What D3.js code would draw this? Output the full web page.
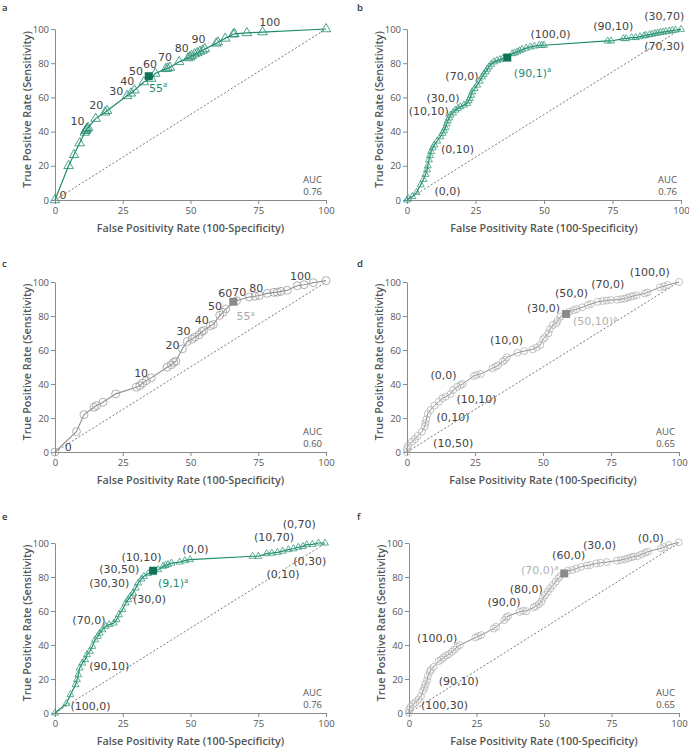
<!DOCTYPE html>
<html><head><meta charset="utf-8">
<script src="https://cdn.jsdelivr.net/npm/d3@7"></script>
<style>body{margin:0;background:#fff}</style>
</head><body><svg id="chart" width="689" height="748"></svg>
<script>
// ---------------- DATA ----------------
const xTicks = [0, 25, 50, 75, 100];
const yTicks = [0, 20, 40, 60, 80, 100];
const panelLetters = ["a", "b", "c", "d", "e", "f"];
const aucValues = ["0.76", "0.76", "0.60", "0.65", "0.76", "0.65"];

const pointsA = [[0,0],[5,20],[7,26.4],[9.1,33.3],[11,39.5],[11.3,40.5],[11.6,41.2],[11.8,41.8],[12.2,42.3],[15,47.6],[18.5,51.3],[19.2,52.2],[26.6,60.9],[28,62.4],[29.3,64.2],[32.8,69],[35.5,71],[37,74],[40.9,76.7],[41.6,77],[42.4,77.5],[45.8,80.8],[49.1,83],[49.8,83.6],[50.4,84.3],[51.5,85.3],[52.5,86],[53.5,86.8],[54.5,87.5],[55.3,88.3],[59.5,91.6],[60.1,92.3],[62.8,94.5],[65.8,96.9],[66.2,97.2],[70.8,97.7],[76.6,98.2],[100,100]];
const cutoffA = [34.6, 72.4];
const labelsA = [["0",1.7,0.8],["10",5.7,43.6],["20",12.6,53.4],["30",20,61.4],["40",24.1,67.3],["50",27.3,73.2],["60",32.5,77.1],["70",38,81],["80",44.2,86.3],["90",50.4,91.8],["100",75.4,102]];
const cutLabelA = ["55", 34.7, 63.4];

const pointsB = [[0,0],[0.5,0.8],[2,2],[3.5,4.5],[5,8.9],[6,12],[6.8,15],[7.3,17.7],[7.6,20],[8,23.5],[8.4,26],[8.8,28.3],[9.4,30.5],[10,32.2],[11,34.5],[12.2,37],[13,39],[13.5,40.5],[14,42.3],[14.5,44.5],[14.9,46.4],[15.4,48],[15.9,49.7],[16.8,51],[17.7,52.6],[18.6,53.6],[19.5,54.6],[20.8,55.5],[22,56.5],[22.5,58],[22.9,59.4],[23.4,61.3],[23.8,63.3],[24.7,65.2],[25.6,67.2],[26.5,69.5],[27.4,72],[28,73.5],[28.7,75],[29.3,76.5],[29.9,77.9],[30.8,79.4],[31.7,80.8],[32.8,81.5],[33.9,82.1],[35,82.8],[38.4,85.6],[39.3,86],[40.2,86.6],[41.1,87.3],[42,88],[43.5,88.8],[45,89.5],[46.5,90],[48.2,90.5],[49.2,90.5],[50,90.5],[73.2,93],[74.5,93],[79,94.4],[80,94.4],[82,95],[83.5,95],[85,95.5],[86.5,96],[87.2,96.3],[88.5,96.7],[89.5,97],[90.5,97.4],[91.5,97.7],[92.5,98],[93.5,98.2],[94.5,98.5],[95.7,98.8],[96.8,99.1],[98,99.4],[100,99.8]];
const cutoffB = [36.6, 83.3];
const labelsB = [["(0,0)",10,3.1],["(0,10)",12.4,27.4],["(10,10)",0.6,50],["(30,0)",7.1,57.5],["(70,0)",14,70],["(100,0)",45.1,95],["(90,10)",68,99.2],["(30,70)",86.6,105],["(70,30)",86.6,87.6]];
const cutLabelB = ["(90,1)", 39, 72];

const pointsC = [[0,0],[7.9,12],[10.7,22],[14.4,26.3],[15.3,27.3],[17.7,29.3],[22.4,34.2],[30,38.1],[31.3,39],[32.3,40.5],[33.7,42],[35.5,43.6],[41.4,49.9],[42.9,51.3],[43.8,52.7],[44.6,53.4],[47,60.7],[48.8,65],[50.6,66.4],[51.6,67.6],[53.2,69],[54.2,70.9],[54.9,71.5],[57.4,74.3],[58.4,75],[60.8,80.4],[62,82.1],[63,84.1],[67,89],[71.7,91.2],[73.8,91.6],[75.4,92.1],[78.3,93.3],[80.8,93.9],[82,94],[83.4,94.5],[85.7,95.1],[89.4,97.8],[91.9,98.4],[95.3,99.6],[100,100.8]];
const cutoffC = [65.8, 88.4];
const labelsC = [["0",3.6,0.6],["10",29.2,44.4],["20",40.8,60.5],["30",44.8,68.6],["40",51.6,75.4],["50",56.5,83.3],["60",60.2,91],["70",65.4,92],["80",71.7,93.9],["100",86.7,101]];
const cutLabelC = ["55", 67, 77.4];

const pointsD = [[0,0],[0,2],[0.4,3.7],[1.8,6],[2.9,7.6],[3.9,9.4],[5.5,12],[6.5,14.9],[6.8,17],[7.1,19.2],[7.6,22.4],[8.6,24.7],[10.1,27.3],[11.7,29.6],[13,31.6],[14.2,32.5],[16,34.1],[17,36.5],[18.5,38.4],[19.7,39.4],[20.5,40],[24.6,44.7],[25.6,45.3],[27.1,45.9],[31.4,49.2],[32.6,50.2],[33.5,51],[35.1,53.1],[36,54.1],[36.7,55.7],[40.6,58.4],[43.1,59.4],[46.2,60.4],[47.7,61.6],[49,62.9],[50,66.3],[50.7,67.5],[52,69.8],[52.5,72.2],[53.6,74.7],[54.9,75.7],[55.4,77.3],[56.4,79.6],[59.7,82.5],[61.3,83.5],[62.4,84],[64.4,85.1],[66.5,86.5],[67.6,87],[70.2,88.4],[72,88.8],[73.4,89.1],[74.9,89.4],[77.3,89.6],[78.7,89.9],[80,90.2],[81.1,90.8],[82.3,91.4],[83.3,91.8],[84.4,92.2],[87.4,93.3],[88.4,93.9],[93,96.9],[94.4,97.4],[95.8,98.2],[100,100]];
const cutoffD = [58.5, 81.2];
const labelsD = [["(10,50)",9.6,3.1],["(0,10)",10.8,18.4],["(10,10)",18.2,29],["(0,0)",8.6,42.7],["(10,0)",30.5,63.3],["(30,0)",44.1,82.5],["(50,0)",54.4,91.4],["(70,0)",67.7,96.3],["(100,0)",81.9,103.5]];
const cutLabelD = ["(50,10)", 61, 74.7];

const pointsE = [[0,0],[4.2,5.5],[5.7,10.8],[7.6,16.7],[8.1,19.6],[8.6,22.5],[9.1,26.5],[10.1,29.4],[11.1,31.4],[11.8,34.3],[12.8,36.3],[13.8,39.2],[14.8,43.1],[15.8,45.1],[16.5,47],[17.5,49],[18.7,51],[20,52],[21.7,52.9],[22.7,54.9],[23.6,57.8],[24.9,60.8],[26.1,64.7],[27,66.7],[27.8,68.6],[28.8,70.6],[29.8,73.5],[30.7,76.5],[31.9,78.8],[32.8,80.4],[34.4,82],[38.1,84.3],[39.9,86.3],[40.8,86.8],[41.7,87.3],[43,88.2],[46,88.8],[47.9,89.6],[49.8,90.2],[72.9,92.2],[75,92.2],[78.1,93.7],[80,94],[82.1,94.5],[84,95.2],[86.1,96.1],[88,96.6],[89.8,97.5],[91.5,98],[92.9,99],[95,99.2],[97.2,100],[99.6,100]];
const cutoffE = [36.2, 83.7];
const labelsE = [["(100,0)",5.7,1.6],["(90,10)",12.6,25.5],["(70,0)",6.4,52.5],["(30,30)",12.6,74.1],["(30,50)",16.3,82.4],["(10,10)",24.5,89.6],["(30,0)",28.8,64.7],["(0,0)",47,94.1],["(10,70)",73.4,101],["(0,70)",84,108.8],["(0,30)",87.9,87.3],["(0,10)",78,79.4]];
const cutLabelE = ["(9,1)", 38, 74.1];

const pointsF = [[0,0],[0,2],[0.5,3.5],[1.5,5.1],[2.4,6.2],[3.5,7.9],[4.4,9.8],[5.2,13],[5.7,14.9],[6.1,17],[6.7,19.3],[7,21.6],[7.7,24.2],[8.1,25.5],[9.1,27.1],[11,30.5],[11.9,31.4],[12.8,32.6],[13.8,33.8],[14.8,34.6],[15.9,36],[16.9,37.3],[17.8,38.9],[18.8,39.9],[24.6,44.4],[25.6,45.2],[26.7,45.8],[31.4,49.7],[32.3,50.7],[35.3,54.6],[36,56.2],[36.7,57],[41,59.5],[42.2,60.1],[43.4,59.9],[46.2,62.1],[47.1,62.8],[48.1,64],[49,65.4],[49.6,67.4],[50.4,69.4],[51.4,71.3],[52.3,73.3],[53.3,75.2],[54.3,77.2],[55.3,79.2],[56,80.5],[58.8,83.7],[60.5,84.1],[62,85],[63.7,86],[65.9,86.8],[67.1,87],[69.4,88],[70.9,88.4],[73.3,88.8],[77,89.6],[78.5,90],[79.9,90.4],[81.1,91],[82.2,91.6],[83.2,92],[84.7,92.3],[86.1,93.3],[87.5,94.3],[88.5,94.9],[93.3,96.9],[94.5,97.6],[96.2,98.8],[99.9,100.4]];
const cutoffF = [57.5, 82.1];
const labelsF = [["(100,30)",4.4,2.6],["(90,10)",11,16.7],["(100,0)",3,41.8],["(90,0)",29.1,62.9],["(80,0)",37.3,70.7],["(60,0)",53,90.4],["(30,0)",64.4,96.3],["(0,0)",84.7,100.8]];
const cutLabelF = ["(70,0)", 41.5, 81.7];

// ---------------- LAYOUT / STYLE ----------------
const GREEN = "#1e8a6c", GREEN_DARK = "#0f7357";
const panels = [
  {pts: pointsA, cut: cutoffA, labels: labelsA, cutLabel: cutLabelA, x0:55, x1:326, yT:29, yB:200, lx:2, ly:11, marker:"tri", size:9.5, stroke:GREEN, line:GREEN, lineW:1.2, sq:GREEN_DARK, cutColor:GREEN},
  {pts: pointsB, cut: cutoffB, labels: labelsB, cutLabel: cutLabelB, x0:407, x1:681, yT:29, yB:200, lx:357, ly:11, marker:"tri", size:7, stroke:"#3a9c80", line:GREEN, lineW:1.2, sq:GREEN_DARK, cutColor:GREEN},
  {pts: pointsC, cut: cutoffC, labels: labelsC, cutLabel: cutLabelC, x0:55, x1:326, yT:282, yB:452, lx:2, ly:267, marker:"circ", size:4, stroke:"#9d9d9d", line:"#8f8f8f", lineW:1.1, sq:"#8a8a8a", cutColor:"#a8a8a8"},
  {pts: pointsD, cut: cutoffD, labels: labelsD, cutLabel: cutLabelD, x0:407, x1:679, yT:282, yB:452, lx:357, ly:267, marker:"circ", size:3.5, stroke:"#b4b4b4", line:"#8f8f8f", lineW:1.0, sq:"#8a8a8a", cutColor:"#b0b0b0"},
  {pts: pointsE, cut: cutoffE, labels: labelsE, cutLabel: cutLabelE, x0:55, x1:326, yT:543, yB:713, lx:2, ly:520, marker:"tri", size:7, stroke:"#3a9c80", line:GREEN, lineW:1.2, sq:GREEN_DARK, cutColor:GREEN},
  {pts: pointsF, cut: cutoffF, labels: labelsF, cutLabel: cutLabelF, x0:409, x1:679, yT:543, yB:713, lx:357, ly:520, marker:"circ", size:3.5, stroke:"#b4b4b4", line:"#8f8f8f", lineW:1.0, sq:"#8a8a8a", cutColor:"#b0b0b0"}
];

const svg = d3.select("#chart");
const FONT = "'DejaVu Sans', sans-serif";
const TFONT = "'Open Sans', sans-serif";

panels.forEach((p, i) => {
  const g = svg.append("g");
  const x = d3.scaleLinear().domain([0, 100]).range([p.x0, p.x1]);
  const y = d3.scaleLinear().domain([0, 100]).range([p.yB, p.yT]);

  // panel letter
  g.append("text").attr("x", p.lx).attr("y", p.ly).text(panelLetters[i])
    .attr("font-family", TFONT).attr("font-size", 9.5).attr("font-weight", 600).attr("fill", "#333");

  // axes
  const xa = g.append("g").attr("transform", `translate(0,${p.yB})`)
    .call(d3.axisBottom(x).tickValues(xTicks).tickSize(4).tickSizeOuter(0).tickPadding(3));
  const ya = g.append("g").attr("transform", `translate(${p.x0},0)`)
    .call(d3.axisLeft(y).tickValues(yTicks).tickSize(4).tickSizeOuter(0).tickPadding(2));
  [xa, ya].forEach(a => {
    a.select(".domain").attr("stroke", "#8a8a8a").attr("stroke-width", 1);
    a.selectAll(".tick line").attr("stroke", "#8a8a8a");
    a.selectAll(".tick text").attr("font-family", TFONT).attr("font-size", 9.5).attr("fill", "#555");
  });

  // axis titles
  g.append("text").attr("x", (p.x0 + p.x1) / 2).attr("y", p.yB + 32)
    .attr("text-anchor", "middle").attr("font-family", TFONT)
    .attr("font-weight", 600).attr("font-size", 10.8).attr("fill", "#555")
    .text("False Positivity Rate (100-Specificity)");
  g.append("text")
    .attr("transform", `translate(${p.x0 - 24},${(p.yT + p.yB) / 2 - 5}) rotate(-90)`)
    .attr("text-anchor", "middle").attr("font-family", TFONT)
    .attr("font-weight", 600).attr("font-size", 10.8).attr("fill", "#555")
    .text("True Positive Rate (Sensitivity)");

  // AUC
  g.append("text").attr("x", p.x1 - 4).attr("y", p.yB - 17).attr("text-anchor", "end")
    .attr("font-family", TFONT).attr("font-size", 9.5).attr("fill", "#555").text("AUC");
  g.append("text").attr("x", p.x1 - 4).attr("y", p.yB - 5).attr("text-anchor", "end")
    .attr("font-family", TFONT).attr("font-size", 9.5).attr("fill", "#555").text(aucValues[i]);

  // diagonal reference
  g.append("line").attr("x1", x(0)).attr("y1", y(0)).attr("x2", x(100)).attr("y2", y(100))
    .attr("stroke", "#555").attr("stroke-width", 0.8).attr("stroke-dasharray", "2,2");

  // ROC curve
  const line = d3.line().x(d => x(d[0])).y(d => y(d[1]));
  g.append("path").datum(p.pts).attr("d", line).attr("fill", "none")
    .attr("stroke", p.line).attr("stroke-width", p.lineW);

  // markers
  if (p.marker === "tri") {
    const area = Math.sqrt(3) / 4 * p.size * p.size;
    const sym = d3.symbol(d3.symbolTriangle, area);
    g.selectAll("path.m").data(p.pts).join("path").attr("class", "m")
      .attr("d", sym).attr("transform", d => `translate(${x(d[0])},${y(d[1])})`)
      .attr("fill", "none").attr("stroke", p.stroke).attr("stroke-width", 0.8);
  } else {
    g.selectAll("circle.m").data(p.pts).join("circle").attr("class", "m")
      .attr("cx", d => x(d[0])).attr("cy", d => y(d[1])).attr("r", p.size)
      .attr("fill", "none").attr("stroke", p.stroke).attr("stroke-width", 0.8);
  }

  // cutoff square
  g.append("rect").attr("x", x(p.cut[0]) - 4).attr("y", y(p.cut[1]) - 4)
    .attr("width", 8).attr("height", 8).attr("fill", p.sq);

  // labels
  g.selectAll("text.lab").data(p.labels).join("text").attr("class", "lab")
    .attr("x", d => x(d[1])).attr("y", d => y(d[2])).text(d => d[0])
    .attr("font-family", FONT).attr("font-size", 11).attr("fill", "#444");

  const cl = g.append("text").attr("x", x(p.cutLabel[1])).attr("y", y(p.cutLabel[2]))
    .attr("font-family", FONT).attr("font-size", 11).attr("fill", p.cutColor);
  cl.append("tspan").text(p.cutLabel[0]);
  cl.append("tspan").attr("font-size", 7).attr("dy", -4.5).text("a");
});
</script></body></html>
